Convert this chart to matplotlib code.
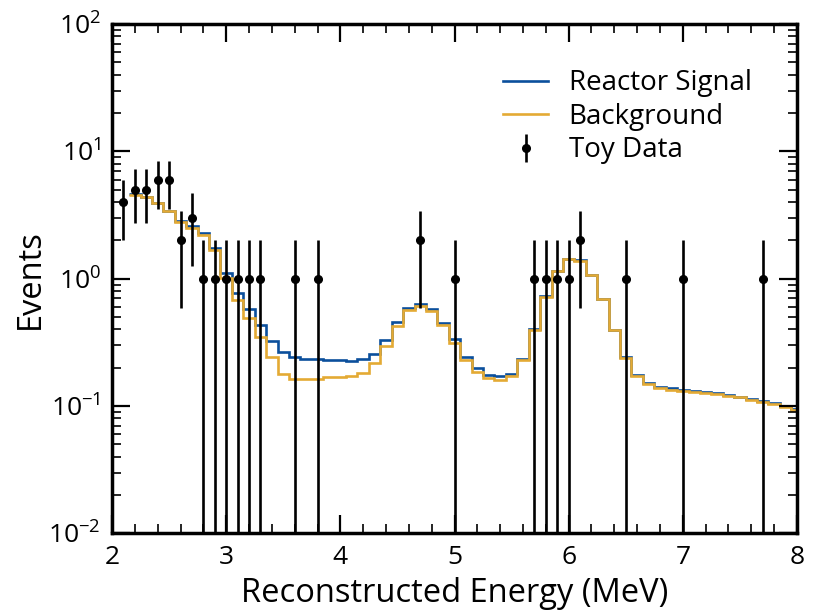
import matplotlib.pyplot as plt
import numpy as np
from matplotlib.ticker import MultipleLocator, LogLocator, NullFormatter

plt.rcParams['font.family'] = ['Open Sans', 'DejaVu Sans']

# bin edges of the expected spectra (0.1 MeV bins)
bin_lo = 2.15
bin_width = 0.1

# total expectation (reactor signal + background), per bin
signal = [4.60, 4.40, 3.96, 3.42, 2.84, 2.58, 2.30, 1.74, 1.10, 0.774,
          0.576, 0.437, 0.324, 0.265, 0.241, 0.235, 0.235, 0.230, 0.230, 0.228,
          0.233, 0.257, 0.330, 0.456, 0.587, 0.639, 0.580, 0.453, 0.334, 0.244,
          0.198, 0.177, 0.171, 0.179, 0.235, 0.400, 0.728, 1.16, 1.44, 1.40,
          1.08, 0.697, 0.399, 0.242, 0.176, 0.152, 0.142, 0.138, 0.135, 0.132,
          0.129, 0.126, 0.122, 0.119, 0.113, 0.109, 0.106, 0.100, 0.095]

background = [4.57, 4.38, 3.93, 3.38, 2.79, 2.52, 2.22, 1.67, 1.02, 0.687,
              0.496, 0.350, 0.241, 0.180, 0.163, 0.162, 0.163, 0.168, 0.170, 0.173,
              0.181, 0.217, 0.296, 0.424, 0.566, 0.608, 0.556, 0.431, 0.314, 0.230,
              0.184, 0.165, 0.159, 0.172, 0.230, 0.395, 0.720, 1.15, 1.43, 1.39,
              1.07, 0.690, 0.395, 0.239, 0.173, 0.149, 0.139, 0.135, 0.132, 0.129,
              0.126, 0.124, 0.120, 0.117, 0.111, 0.107, 0.104, 0.099, 0.094]

# toy data: non-empty bins only
data_E = [2.1, 2.2, 2.3, 2.4, 2.5, 2.6, 2.7, 2.8, 2.9, 3.0, 3.1, 3.2, 3.3,
          3.6, 3.8, 4.7, 5.0, 5.7, 5.8, 5.9, 6.0, 6.1, 6.5, 7.0, 7.7]
data_N = [4, 5, 5, 6, 6, 2, 3, 1, 1, 1, 1, 1, 1,
          1, 1, 2, 1, 1, 1, 1, 1, 2, 1, 1, 1]

edges = bin_lo + bin_width * np.arange(len(signal) + 1)
data_N = np.array(data_N, dtype=float)
data_err = np.sqrt(data_N)

fig = plt.figure(figsize=(8.13, 6.13), dpi=100)
ax = fig.add_axes([0.1378, 0.1297, 0.8425, 0.8311])

ax.stairs(signal, edges, baseline=None, color='#0b4f9c', lw=1.9,
          label='Reactor Signal')
ax.stairs(background, edges, baseline=None, color='#e4aa34', lw=1.9,
          label='Background')
ax.errorbar(data_E, data_N, yerr=data_err, fmt='o', color='black',
            ms=5.5, elinewidth=1.9, capsize=0, label='Toy Data')

ax.set_yscale('log')
ax.set_xlim(2, 8)
ax.set_ylim(1e-2, 1e2)

ax.xaxis.set_major_locator(MultipleLocator(1))
ax.xaxis.set_minor_locator(MultipleLocator(0.2))
ax.yaxis.set_major_locator(LogLocator(base=10, numticks=10))
ax.yaxis.set_minor_locator(LogLocator(base=10, subs=np.arange(2, 10), numticks=20))
ax.yaxis.set_minor_formatter(NullFormatter())

for s in ax.spines.values():
    s.set_linewidth(2.5)
ax.tick_params(which='both', direction='in', top=True, right=True, labelsize=19)
ax.tick_params(which='major', length=13, width=1.6, pad=8)
ax.tick_params(which='minor', length=6.5, width=1.2)

ax.set_xlabel('Reconstructed Energy (MeV)', fontsize=23.5, labelpad=5)
ax.set_ylabel('Events', fontsize=23.5, labelpad=1)

ax.legend(loc='upper right', bbox_to_anchor=(0.95, 0.933), borderaxespad=0,
          frameon=False, fontsize=20, handlelength=1.6, handletextpad=0.75,
          labelspacing=0.2)

fig.savefig('out.png', dpi=100)
